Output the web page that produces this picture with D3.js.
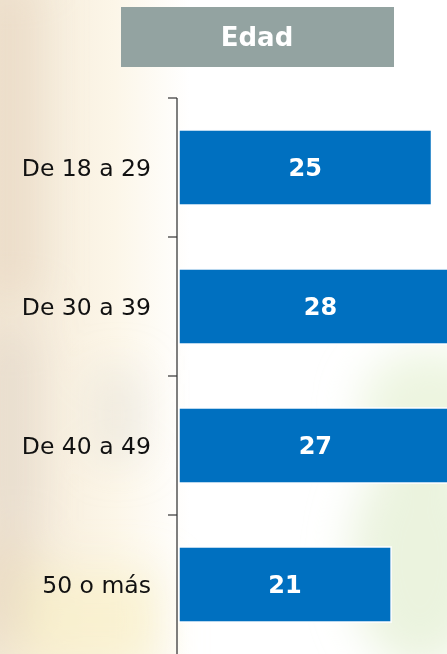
<!DOCTYPE html>
<html>
<head>
<meta charset="utf-8">
<script src="https://cdn.jsdelivr.net/npm/d3@7"></script>
<style>
  html, body { margin: 0; padding: 0; background: #fff; }
  svg { display: block; }
</style>
</head>
<body>
<svg id="chart"></svg>
<script>
const TITLE = "Edad";
const categories = ["De 18 a 29", "De 30 a 39", "De 40 a 49", "50 o más"];
const values = [25, 28, 27, 21];

const width = 447, height = 654;

const svg = d3.select("#chart")
    .attr("width", width)
    .attr("height", height);

// blurry photo-like backdrop
const defs = svg.append("defs");
defs.append("filter").attr("id", "blur")
    .attr("x", "-50%").attr("y", "-50%").attr("width", "200%").attr("height", "200%")
  .append("feGaussianBlur").attr("stdDeviation", 22);

const leftGrad = defs.append("linearGradient").attr("id", "leftFade")
    .attr("x1", 0).attr("x2", 1).attr("y1", 0).attr("y2", 0);
leftGrad.append("stop").attr("offset", 0).attr("stop-color", "#f3e8d6");
leftGrad.append("stop").attr("offset", 0.6).attr("stop-color", "#fcf6e8");
leftGrad.append("stop").attr("offset", 1).attr("stop-color", "#ffffff");

const bg = svg.append("g");
bg.append("rect").attr("width", width).attr("height", height).attr("fill", "#fff");
bg.append("rect").attr("width", 190).attr("height", height).attr("fill", "url(#leftFade)");

const blobs = bg.append("g").attr("filter", "url(#blur)");
blobs.append("rect").attr("x", -20).attr("y", -20).attr("width", 60).attr("height", 320).attr("fill", "#e6d3bd").attr("opacity", 0.55);
blobs.append("ellipse").attr("cx", 10).attr("cy", 590).attr("rx", 30).attr("ry", 60).attr("fill", "#dcc8b0").attr("opacity", 0.45);
blobs.append("rect").attr("x", -10).attr("y", 330).attr("width", 45).attr("height", 200).attr("fill", "#d6ccc0").attr("opacity", 0.45);
blobs.append("rect").attr("x", 95).attr("y", 370).attr("width", 45).attr("height", 90).attr("fill", "#e2ddd5").attr("opacity", 0.5);
blobs.append("rect").attr("x", 20).attr("y", 570).attr("width", 140).attr("height", 100).attr("fill", "#f8f0c8").attr("opacity", 0.7);
blobs.append("ellipse").attr("cx", 430).attr("cy", 410).attr("rx", 70).attr("ry", 60).attr("fill", "#e8f2d8").attr("opacity", 0.8);
blobs.append("ellipse").attr("cx", 420).attr("cy", 560).attr("rx", 70).attr("ry", 110).attr("fill", "#e6f0d6").attr("opacity", 0.8);

// title box
svg.append("rect")
    .attr("x", 121).attr("y", 7)
    .attr("width", 273).attr("height", 60)
    .attr("fill", "#93a3a1");
svg.append("text")
    .attr("x", 257).attr("y", 37)
    .attr("text-anchor", "middle")
    .attr("dominant-baseline", "central")
    .style("font", "bold 26px 'DejaVu Sans', Verdana, sans-serif")
    .style("fill", "#fff")
    .text(TITLE);

// scales
const x = d3.scaleLinear()
    .domain([0, 28])
    .range([179, 179 + 28 * 10.1]);

const y = d3.scaleBand()
    .domain(categories)
    .range([98, 654])
    .paddingInner(0.46)
    .paddingOuter(0.23);

// bars
const bar = svg.selectAll(".bar")
    .data(categories)
    .join("g")
    .attr("class", "bar");

bar.append("rect")
    .attr("x", x(0))
    .attr("y", d => y(d))
    .attr("width", (d, i) => x(values[i]) - x(0))
    .attr("height", y.bandwidth())
    .attr("fill", "#0070c0")
    .attr("stroke", "#ffffff")
    .attr("stroke-width", 1.5);

bar.append("text")
    .attr("x", (d, i) => (x(0) + x(values[i])) / 2)
    .attr("y", d => y(d) + y.bandwidth() / 2)
    .attr("text-anchor", "middle")
    .attr("dominant-baseline", "central")
    .style("font", "bold 24px 'DejaVu Sans', Verdana, sans-serif")
    .style("fill", "#fff")
    .text((d, i) => values[i]);

// category axis with ticks between bands
const yAxis = svg.append("g").attr("transform", "translate(177,0)");
yAxis.append("line")
    .attr("x1", 0).attr("x2", 0)
    .attr("y1", 98).attr("y2", height)
    .attr("stroke", "#555").attr("stroke-width", 1.5);

const step = y.step();
const tickYs = categories.map(d => y(d) - y.paddingOuter() * step);
yAxis.selectAll(".tick")
    .data(tickYs)
    .join("line")
    .attr("class", "tick")
    .attr("x1", -9).attr("x2", 0)
    .attr("y1", d => d).attr("y2", d => d)
    .attr("stroke", "#333").attr("stroke-width", 1.2);

yAxis.selectAll(".label")
    .data(categories)
    .join("text")
    .attr("class", "label")
    .attr("x", -26)
    .attr("y", d => y(d) + y.bandwidth() / 2)
    .attr("text-anchor", "end")
    .attr("dominant-baseline", "central")
    .style("font", "23.5px 'DejaVu Sans', Tahoma, sans-serif")
    .style("fill", "#111")
    .text(d => d);
</script>
</body>
</html>
